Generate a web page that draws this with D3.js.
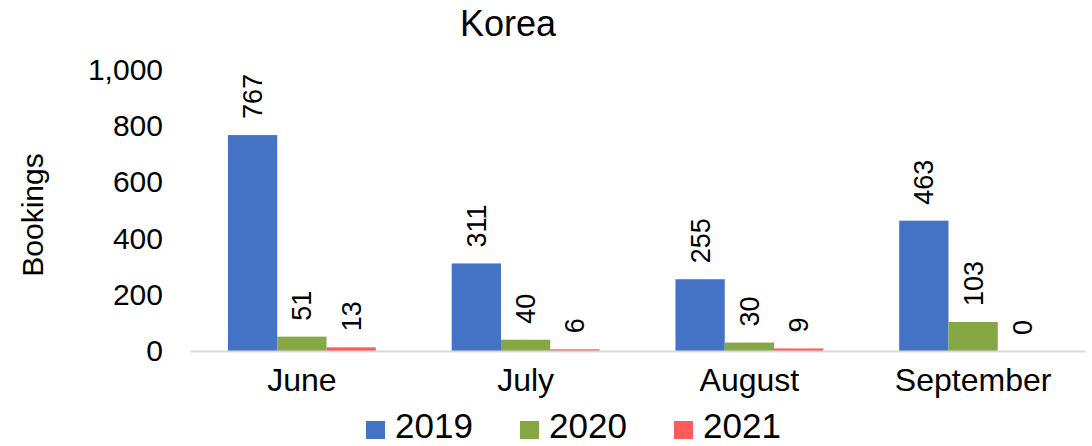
<!DOCTYPE html>
<html>
<head>
<meta charset="utf-8">
<script src="https://cdn.jsdelivr.net/npm/d3@7"></script>
<style>
  html, body { margin: 0; padding: 0; background: #fff; }
  svg { display: block; font-family: "Liberation Sans", Arial, sans-serif; }
</style>
</head>
<body>
<svg id="chart" width="1092" height="446"></svg>
<script>
const months = ["June", "July", "August", "September"];
const seriesNames = ["2019", "2020", "2021"];
const values2019 = [767, 311, 255, 463];
const values2020 = [51, 40, 30, 103];
const values2021 = [13, 6, 9, 0];
const yTicks = [0, 200, 400, 600, 800, 1000];
const colors = ["#4472C4", "#86A844", "#FF5B5B"];
const titleText = "Korea";
const yTitle = "Bookings";

const allValues = [values2019, values2020, values2021];
const data = months.map((m, i) => ({
  month: m,
  vals: seriesNames.map((s, j) => ({ key: s, value: allValues[j][i], color: colors[j] }))
}));

const svg = d3.select("#chart");
const plotLeft = 190, plotRight = 1085, plotTop = 69.5, plotBottom = 351;

const x0 = d3.scaleBand().domain(months).range([plotLeft, plotRight]).paddingInner(0).paddingOuter(0);
const x1 = d3.scaleBand().domain(seriesNames).range([0, x0.bandwidth()]).paddingInner(0).paddingOuter(0.77);
const y = d3.scaleLinear().domain([0, 1000]).range([plotBottom, plotTop]);

// title
svg.append("text")
  .attr("x", 508).attr("y", 36)
  .attr("text-anchor", "middle")
  .attr("font-size", 36)
  .attr("fill", "#000")
  .text(titleText);

// y axis labels
const yAxis = d3.axisLeft(y).tickValues(yTicks).tickSize(0).tickPadding(27)
  .tickFormat(d3.format(","));
const gy = svg.append("g").attr("transform", `translate(${plotLeft},0)`).call(yAxis);
gy.select(".domain").remove();
gy.selectAll("text").attr("font-size", 30).attr("fill", "#000")
  .attr("font-family", "Liberation Sans, Arial, sans-serif");

// y title
svg.append("text")
  .attr("transform", `translate(43,215) rotate(-90)`)
  .attr("text-anchor", "middle")
  .attr("font-size", 30)
  .attr("fill", "#000")
  .text(yTitle);

// bars
const groups = svg.append("g").selectAll("g").data(data).join("g")
  .attr("transform", d => `translate(${x0(d.month)},0)`);

groups.selectAll("rect").data(d => d.vals).join("rect")
  .attr("x", d => x1(d.key))
  .attr("width", x1.bandwidth())
  .attr("y", d => y(d.value))
  .attr("height", d => y(0) - y(d.value))
  .attr("fill", d => d.color);

// data labels
groups.selectAll("text.lbl").data(d => d.vals).join("text")
  .attr("class", "lbl")
  .attr("transform", d => `translate(${x1(d.key) + x1.bandwidth() / 2},${y(d.value) - 16}) rotate(-90)`)
  .attr("dy", "0.35em")
  .attr("text-anchor", "start")
  .attr("font-size", 27)
  .attr("fill", "#000")
  .text(d => d.value);

// x axis line
const xAxis = d3.axisBottom(x0).tickSize(0).tickPadding(17);
const gx = svg.append("g").attr("transform", `translate(0,${plotBottom})`).call(xAxis);
gx.select(".domain").attr("stroke", "#d9d9d9").attr("stroke-width", 2);
gx.selectAll("text").attr("font-size", 32).attr("fill", "#000")
  .attr("font-family", "Liberation Sans, Arial, sans-serif");

// legend
const legendItems = [
  { name: seriesNames[0], color: colors[0], x: 366 },
  { name: seriesNames[1], color: colors[1], x: 520 },
  { name: seriesNames[2], color: colors[2], x: 674 }
];
const lg = svg.append("g").selectAll("g").data(legendItems).join("g")
  .attr("transform", d => `translate(${d.x},0)`);
lg.append("rect").attr("x", 0).attr("y", 421).attr("width", 19).attr("height", 18).attr("fill", d => d.color);
lg.append("text").attr("x", 29).attr("y", 438).attr("font-size", 35).attr("fill", "#000").text(d => d.name);
</script>
</body>
</html>
